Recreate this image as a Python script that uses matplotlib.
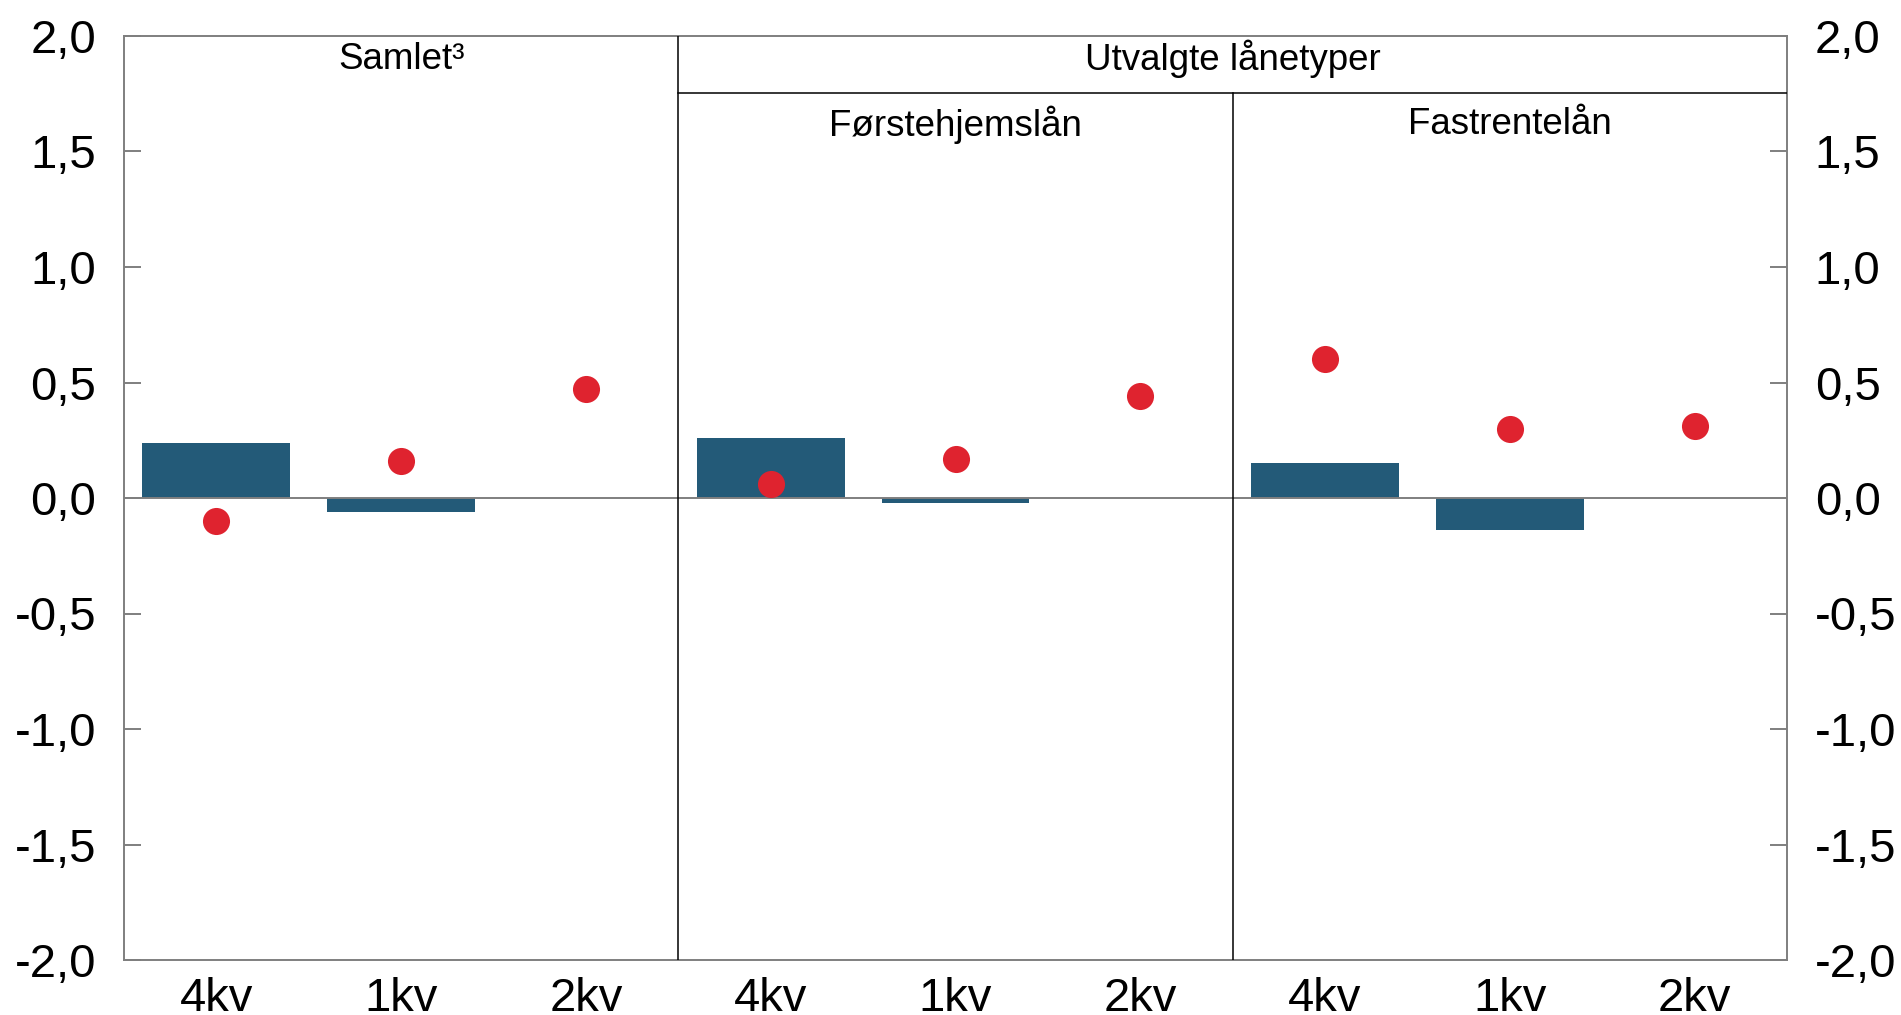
import matplotlib
matplotlib.use("Agg")
import matplotlib.pyplot as plt
import numpy as np

NAVY, RED, GRAY = "#235A78", "#DF232F", "#7f7f7f"

PANELS = ["Samlet³", "Førstehjemslån", "Fastrentelån"]
GROUP = "Utvalgte lånetyper"
QUARTERS = ["4kv", "1kv", "2kv"]
BARS = [0.24, -0.06, np.nan, 0.26, -0.02, np.nan, 0.15, -0.14, np.nan]
DOTS = [-0.10, 0.16, 0.47, 0.06, 0.17, 0.44, 0.60, 0.30, 0.31]
YTICKS = [-2.0, -1.5, -1.0, -0.5, 0.0, 0.5, 1.0, 1.5, 2.0]

plt.rcParams["font.family"] = ["Liberation Sans", "DejaVu Sans"]

fig = plt.figure(figsize=(19.01, 10.15), dpi=100)
ax = fig.add_axes([124 / 1901, 55 / 1015, (1787 - 124) / 1901, (960 - 36) / 1015])

x = np.arange(len(DOTS))
ax.bar(x, BARS, width=0.8, color=NAVY, zorder=2)
ax.plot(x, DOTS, "o", color=RED, ms=19.5, mec="none", zorder=4)
ax.axhline(0, color=GRAY, lw=1.4, zorder=3)

ax.set_xlim(-0.5, len(DOTS) - 0.5)
ax.set_ylim(-2, 2)

# panel dividers and header
hline_y = 1.755
ax.plot([2.5, 2.5], [-2, 2], color="black", lw=1.1, zorder=3)
ax.plot([5.5, 5.5], [-2, hline_y], color="black", lw=1.1, zorder=3)
ax.plot([2.5, 8.5], [hline_y, hline_y], color="black", lw=1.1, zorder=3)

fs_head = 26.5
ax.text(1, 1.9, PANELS[0], ha="center", va="center", fontsize=fs_head)
ax.text(5.5, 1.9, GROUP, ha="center", va="center", fontsize=fs_head)
ax.text(4, 1.615, PANELS[1], ha="center", va="center", fontsize=fs_head)
ax.text(7, 1.615, PANELS[2], ha="center", va="center", fontsize=fs_head)

ax.set_xticks(x)
ax.set_xticklabels(QUARTERS * 3)
ax.set_yticks(YTICKS)
ax.set_yticklabels([f"{v:.1f}".replace(".", ",") for v in YTICKS])
ax.tick_params(axis="y", left=True, right=True, labelleft=True,
               labelright=True, direction="in", length=12, width=1.4,
               color=GRAY, labelsize=34, pad=20)
# the reference cuts the quarter labels at the bottom edge
ax.tick_params(axis="x", length=0, labelsize=34, pad=12)

for s in ax.spines.values():
    s.set_color(GRAY)
    s.set_linewidth(1.4)

fig.savefig("out.png", dpi=100)
